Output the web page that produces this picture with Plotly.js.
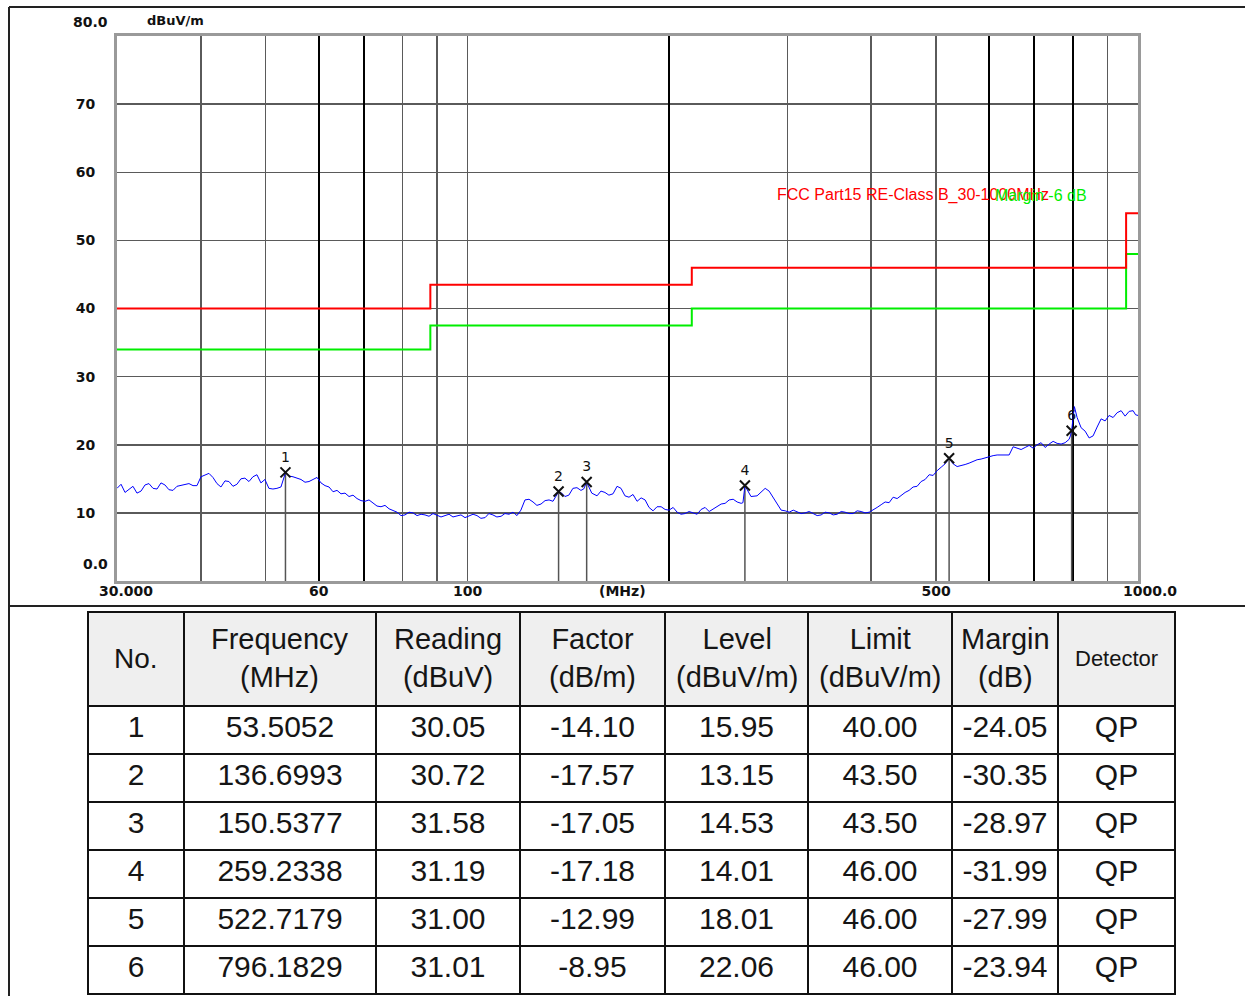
<!DOCTYPE html>
<html>
<head>
<meta charset="utf-8">
<script src="https://cdn.plot.ly/plotly-3.0.1.min.js"></script>
<style>
html,body{margin:0;padding:0;background:#fff;}
#chart{width:1245px;height:996px;}
</style>
</head>
<body>
<div id="chart"></div>
<script>
// ---- Sweep (blue trace) ----
const sweepFreq = [30.00,30.42,30.84,31.26,31.69,32.13,32.58,33.03,33.48,33.95,
  34.42,34.89,35.37,35.86,36.36,36.86,37.37,37.89,38.41,38.95,
  39.48,40.03,40.58,41.14,41.71,42.29,42.87,43.47,44.07,44.68,
  45.29,45.92,46.55,47.20,47.85,48.51,49.18,49.86,50.55,51.25,
  51.96,52.68,53.51,54.20,54.91,55.67,56.44,57.22,58.01,58.81,
  59.63,60.45,61.29,62.14,63.00,63.87,64.75,65.65,66.56,67.48,
  68.41,69.36,70.32,71.29,72.27,73.27,74.29,75.31,76.36,77.41,
  78.48,79.57,80.67,81.79,82.92,84.07,85.23,86.41,87.60,88.81,
  90.04,91.29,92.55,93.83,95.12,96.44,97.77,99.13,100.5,101.9,
  103.3,104.7,106.2,107.6,109.1,110.6,112.2,113.7,115.3,116.9,
  118.5,120.1,121.8,123.5,125.2,126.9,128.7,130.5,132.3,134.1,
  136.70,138.2,139.7,141.6,143.6,145.6,147.6,149.0,150.54,153.2,
  156.0,158.1,160.3,162.5,164.8,167.1,169.4,171.7,174.1,176.5,
  179.0,181.5,184.0,186.5,189.1,191.7,194.4,197.1,199.8,202.6,
  205.4,208.2,211.1,214.0,217.0,220.0,223.0,226.1,229.3,232.4,
  235.6,238.9,242.2,245.6,249.0,252.4,255.9,257.5,259.23,264.7,
  270.3,274.1,277.9,281.7,285.6,289.6,293.6,297.7,301.8,306.0,
  310.2,314.5,318.8,323.2,327.7,332.2,336.8,341.5,346.2,351.0,
  355.8,360.8,365.7,370.8,375.9,381.1,386.4,391.8,397.2,402.7,
  408.2,413.9,419.6,425.4,431.3,437.3,443.3,449.4,455.6,461.9,
  468.3,474.8,481.4,488.1,494.8,501.7,508.6,515.6,522.72,530.0,
  537.3,544.8,552.3,559.9,567.6,575.5,583.5,591.6,599.7,608.0,
  616.4,625.0,633.6,642.4,651.2,660.3,669.4,678.7,688.0,697.6,
  707.2,717.0,726.9,737.0,747.1,757.5,767.9,778.6,789.3,792.7,
  796.18,803.7,811.3,822.5,833.9,845.5,857.1,869.0,881.0,893.2,
  905.5,918.1,930.8,943.7,956.7,970.0,983.4,991.7,1000];
const sweepLevel = [13.6,14.2,13.0,13.5,13.9,12.9,13.2,14.1,14.3,13.6,
  13.5,14.4,14.1,13.4,13.3,13.9,14.0,14.2,14.3,14.0,
  14.0,15.3,15.6,15.8,15.2,14.3,13.8,14.7,14.6,13.9,
  14.2,15.0,15.1,14.6,15.3,15.6,14.4,14.9,13.6,13.5,
  13.6,13.8,15.9,15.4,15.3,15.1,14.9,14.5,14.6,14.9,
  15.2,14.4,14.0,13.8,13.1,13.3,12.8,12.9,12.4,12.6,
  12.1,11.8,11.7,11.9,11.4,11.0,10.9,11.1,10.6,10.4,
  10.1,9.6,9.7,10.1,10.0,9.6,9.8,9.7,9.5,9.9,
  9.7,9.4,9.6,9.8,9.4,9.5,9.7,9.3,9.5,9.8,
  9.6,9.2,9.3,9.9,9.7,9.4,9.5,9.9,9.8,10.1,
  9.6,10.4,11.9,12.0,11.6,11.1,11.3,11.8,11.9,11.7,
  13.1,12.9,12.4,12.6,13.6,13.7,13.3,13.5,14.5,12.9,
  12.5,13.2,13.0,12.6,12.8,13.9,13.6,12.5,12.3,12.7,
  11.7,12.2,11.9,10.8,10.3,10.9,10.9,10.5,10.4,10.8,
  10.1,9.8,9.9,10.2,10.0,9.8,10.5,10.8,10.2,10.6,
  10.9,11.3,11.4,11.9,12.0,11.6,11.4,11.5,14.0,12.4,
  12.5,13.1,13.6,13.2,12.2,11.4,10.4,10.3,10.1,10.4,
  10.2,9.9,10.0,10.2,9.9,9.6,9.7,10.1,10.0,9.7,
  9.8,10.2,10.1,9.9,9.9,10.3,10.2,10.0,10.1,10.4,
  10.8,11.2,11.6,11.5,12.3,12.1,12.6,13.0,13.3,13.8,
  13.9,14.6,14.9,15.6,15.5,16.2,16.7,17.2,18.0,17.2,
  16.8,16.9,17.1,17.3,17.6,17.8,17.9,18.1,18.3,18.4,
  18.5,18.5,18.6,18.5,19.7,19.5,19.3,19.6,19.9,19.5,
  20.0,20.3,19.6,20.1,20.5,20.2,20.1,20.3,20.8,21.3,
  22.1,25.6,24.0,22.5,22.0,21.0,21.3,22.6,23.8,23.5,
  24.3,24.0,24.7,25.0,24.2,24.9,25.0,24.4,24.3];

// ---- Limit lines ----
const limitFreq = [30, 88, 216, 960, 1000];
const limitClassB = [40, 43.5, 46, 54, 54];
const limitMargin = [34, 37.5, 40, 48, 48];

// ---- Marker table ----
const markerNo = [1, 2, 3, 4, 5, 6];
const markerFreq = [53.5052, 136.6993, 150.5377, 259.2338, 522.7179, 796.1829];
const markerReading = [30.05, 30.72, 31.58, 31.19, 31.00, 31.01];
const markerFactor = [-14.10, -17.57, -17.05, -17.18, -12.99, -8.95];
const markerLevel = [15.95, 13.15, 14.53, 14.01, 18.01, 22.06];
const markerLimit = [40.00, 43.50, 43.50, 46.00, 46.00, 46.00];
const markerMargin = [-24.05, -30.35, -28.97, -31.99, -27.99, -23.94];
const markerDetector = ['QP', 'QP', 'QP', 'QP', 'QP', 'QP'];

// ---- Axis ticks / table header ----
const xGrid = [40, 50, 60, 70, 80, 90, 100, 200, 300, 400, 500, 600, 700, 800, 900];
const xGridText = ['', '', '60', '', '', '', '100', '', '', '', '500', '', '', '', ''];
const xGridDark = [60, 70, 200, 600, 700, 800];
const yTicks = [10, 20, 30, 40, 50, 60, 70];
const tableHeader = ['No.', 'Frequency<br>(MHz)', 'Reading<br>(dBuV)', 'Factor<br>(dB/m)',
  'Level<br>(dBuV/m)', 'Limit<br>(dBuV/m)', 'Margin<br>(dB)', 'Detector'];
const headerSize = [28, 29, 29, 29, 29, 29, 29, 22];
const colWidth = [96, 192, 144, 145, 143, 144, 106, 117];

const W = 1245, H = 996;
const px = v => v / W;
const py = v => 1 - v / H;
const tableLeft = 88, tableRight = 1175;

// marker stems
const stemX = [], stemY = [];
markerFreq.forEach((f, i) => { stemX.push(f, f, null); stemY.push(markerLevel[i], 0, null); });

const traces = [
  {type: 'scatter', mode: 'lines', x: stemX, y: stemY, xaxis: 'x', yaxis: 'y',
   line: {color: '#555', width: 1.5}, hoverinfo: 'skip'},
  {type: 'scatter', mode: 'lines', x: limitFreq, y: limitMargin, line: {color: '#00ee00', width: 2, shape: 'hv'}},
  {type: 'scatter', mode: 'lines', x: limitFreq, y: limitClassB, line: {color: '#ff0000', width: 2, shape: 'hv'}},
  {type: 'scatter', mode: 'lines', x: sweepFreq, y: sweepLevel, line: {color: '#0000ff', width: 1}},
  {type: 'scatter', mode: 'markers+text', x: markerFreq, y: markerLevel,
   text: markerNo.map(String), textposition: 'top center',
   textfont: {family: 'DejaVu Sans', size: 14, color: '#111'},
   marker: {symbol: 'x-thin', size: 10, line: {width: 2, color: '#111'}}},
  {type: 'scatter', mode: 'lines', x: [30, 1000], y: [null, null], xaxis: 'x2', yaxis: 'y', hoverinfo: 'skip'},
  {type: 'table', domain: {x: [px(tableLeft), px(tableRight)], y: [0.001, py(612)]},
   columnwidth: colWidth,
   header: {values: tableHeader.map(() => ''), height: 94, align: 'center',
     fill: {color: '#efefef'}, line: {color: '#111', width: 2},
     font: {family: 'Liberation Sans, Arial', size: 28, color: '#151515'}},
   cells: {values: [markerNo, markerFreq, markerReading, markerFactor, markerLevel, markerLimit, markerMargin, markerDetector],
     format: [null, '.4f', '.2f', '.2f', '.2f', '.2f', '.2f', null],
     height: 48, align: 'center', fill: {color: '#ffffff'}, line: {color: '#111', width: 2},
     font: {family: 'Liberation Sans, Arial', size: 30, color: '#151515'}}}
];

// header labels centred in their columns
const totalW = colWidth.reduce((a, b) => a + b, 0);
let acc = 0;
const headerAnn = tableHeader.map((t, i) => {
  const cx = tableLeft + (acc + colWidth[i] / 2) / totalW * (tableRight - tableLeft);
  acc += colWidth[i];
  return {text: t, xref: 'paper', yref: 'paper', x: px(cx), y: py(658), xanchor: 'center', yanchor: 'middle',
    align: 'center', showarrow: false,
    font: {family: 'Liberation Sans, Arial', size: headerSize[i], color: '#151515'}};
});

const axFont = {family: 'DejaVu Sans', size: 14, color: '#111', weight: 'bold'};
const layout = {
  width: W, height: H, margin: {l: 0, r: 0, t: 0, b: 0},
  paper_bgcolor: '#fff', plot_bgcolor: '#fff', showlegend: false,
  xaxis: {type: 'log', range: [Math.log10(30), 3], domain: [px(117), px(1138)], anchor: 'y',
    tickmode: 'array', tickvals: xGrid, ticktext: xGridText, ticks: '', tickfont: axFont, ticklabelstandoff: -5,
    showgrid: true, gridcolor: '#5a5a5a', gridwidth: 1.5, zeroline: false,
    showline: true, mirror: true, linecolor: '#9a9a9a', linewidth: 3},
  xaxis2: {type: 'log', range: [Math.log10(30), 3], overlaying: 'x', anchor: 'y', side: 'bottom',
    tickmode: 'array', tickvals: xGridDark, showticklabels: false, ticks: '',
    showgrid: true, gridcolor: '#000', gridwidth: 2, zeroline: false, showline: false},
  yaxis: {range: [0, 80], domain: [py(581), py(36)], anchor: 'x',
    tickmode: 'array', tickvals: yTicks, ticks: '', tickfont: axFont, ticklabelstandoff: 16,
    showgrid: true, gridcolor: '#5a5a5a', gridwidth: 1.5, zeroline: false,
    showline: true, mirror: true, linecolor: '#9a9a9a', linewidth: 3},
  shapes: [
    {type: 'line', xref: 'paper', yref: 'paper', x0: px(9), x1: 1, y0: py(7), y1: py(7), line: {color: '#222', width: 2}},
    {type: 'line', xref: 'paper', yref: 'paper', x0: px(9), x1: px(9), y0: py(7), y1: 0, line: {color: '#222', width: 2}},
    {type: 'line', xref: 'paper', yref: 'paper', x0: px(9), x1: 1, y0: py(606), y1: py(606), line: {color: '#222', width: 2}}
  ],
  annotations: [
    {text: '80.0', xref: 'paper', yref: 'paper', x: px(110), y: py(22), xanchor: 'right', yanchor: 'middle', showarrow: false, font: axFont},
    {text: 'dBuV/m', xref: 'paper', yref: 'paper', x: px(145), y: py(20), xanchor: 'left', yanchor: 'middle', showarrow: false, font: {family: 'DejaVu Sans', size: 13, color: '#111', weight: 'bold'}},
    {text: '0.0', xref: 'paper', yref: 'paper', x: px(110), y: py(564), xanchor: 'right', yanchor: 'middle', showarrow: false, font: axFont},
    {text: '30.000', xref: 'paper', yref: 'paper', x: px(126), y: py(591), xanchor: 'center', yanchor: 'middle', showarrow: false, font: axFont},
    {text: '(MHz)', xref: 'paper', yref: 'paper', x: px(622), y: py(591), xanchor: 'center', yanchor: 'middle', showarrow: false, font: axFont},
    {text: '1000.0', xref: 'paper', yref: 'paper', x: px(1150), y: py(591), xanchor: 'center', yanchor: 'middle', showarrow: false, font: axFont},
    {text: 'FCC Part15 RE-Class B_30-1000MHz', xref: 'paper', yref: 'paper', x: px(775), y: py(195), xanchor: 'left', yanchor: 'middle', showarrow: false, font: {family: 'Liberation Sans', size: 16, color: '#ff0000'}},
    {text: 'Margin -6 dB', xref: 'paper', yref: 'paper', x: px(1089), y: py(195), xanchor: 'right', yanchor: 'middle', showarrow: false, font: {family: 'Liberation Sans', size: 16, color: '#00ee00'}}
  ].concat(headerAnn)
};

Plotly.newPlot('chart', traces, layout, {staticPlot: true, displayModeBar: false});
</script>
</body>
</html>
